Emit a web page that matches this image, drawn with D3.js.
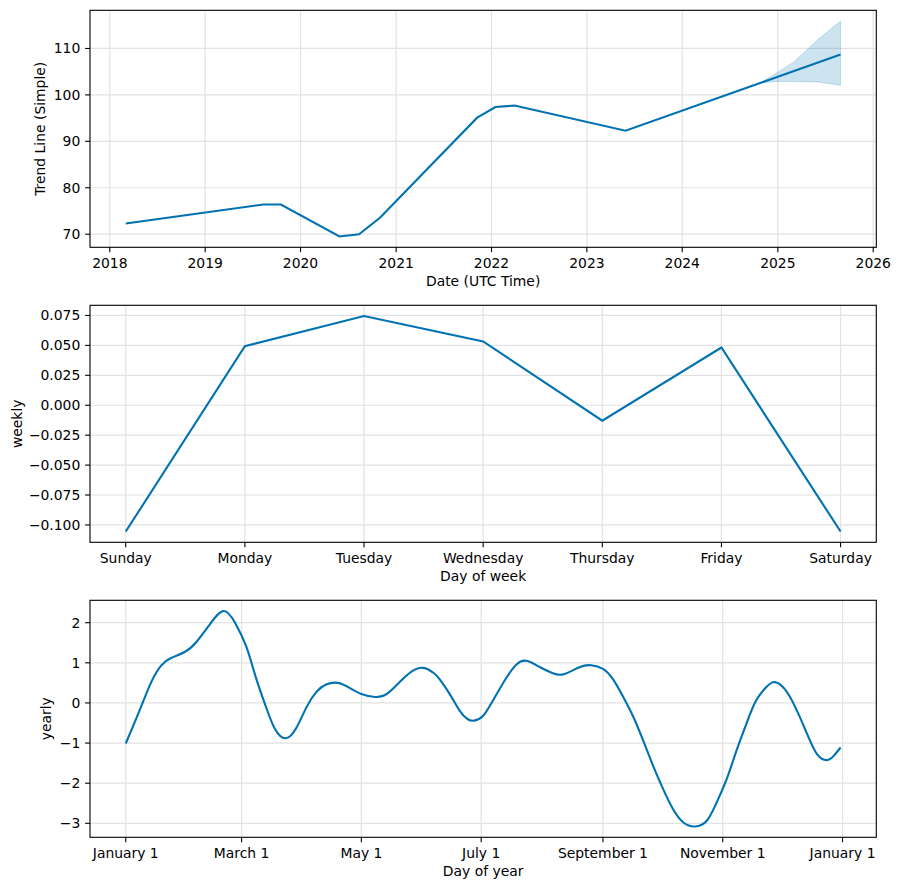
<!DOCTYPE html>
<html>
<head>
<meta charset="utf-8">
<script src="https://cdn.jsdelivr.net/npm/d3@7"></script>
<style>
  html, body { margin: 0; padding: 0; background: #fff; }
  svg { display: block; }
  text { font-family: "DejaVu Sans", sans-serif; font-size: 13.9px; fill: #000; }
</style>
</head>
<body>
<svg id="chart" width="898" height="890"></svg>
<script>
// ---------- DATA ----------
// Panel 1: trend
const trendDates  = ["2018-03-03","2019-08-12","2019-10-18","2020-05-29","2020-08-12","2020-11-01","2021-11-07","2022-01-16","2022-03-30","2023-05-29","2025-08-29"];
const trendValues = [72.3, 76.4, 76.4, 69.5, 70.0, 73.6, 95.1, 97.4, 97.7, 92.3, 108.7];
const bandDates   = ["2024-10-25","2025-01-01","2025-03-03","2025-06-01","2025-08-29"];
const bandLower   = [102.6, 102.9, 102.9, 102.8, 102.1];
const bandUpper   = [102.6, 104.9, 107.1, 111.8, 115.9];
const trendYTicks = [70, 80, 90, 100, 110];
const trendXTickYears = [2018, 2019, 2020, 2021, 2022, 2023, 2024, 2025, 2026];

// Panel 2: weekly
const weekDays   = ["Sunday","Monday","Tuesday","Wednesday","Thursday","Friday","Saturday"];
const weeklyValues = [-0.1055, 0.0494, 0.0745, 0.0533, -0.0129, 0.0482, -0.1055];
const weeklyYTicks = [-0.1, -0.075, -0.05, -0.025, 0, 0.025, 0.05, 0.075];

// Panel 3: yearly (day of year offset from Jan 1, value)
const yearlyDays = [0,7,13,18,23,30,36,43,50,56,61.5,66.5,71.5,76,81.5,87,92,97,102,108,114,120,127,133,139.5,145.5,151.5,157,160,165,170,174,177.5,182,187,194,199,204,211,217.5,223,231,237,243,248,253,258.5,263.5,268.5,273.5,278.5,284,290,296,301,306,311,316,321,326.5,330.5,335.5,341,347,352,357,360.5,364];
const yearlyValues = [-1.01,-0.19,0.52,0.93,1.12,1.27,1.52,1.97,2.29,1.97,1.39,0.6,-0.11,-0.65,-0.88,-0.61,-0.11,0.27,0.46,0.50,0.375,0.225,0.15,0.225,0.52,0.78,0.875,0.74,0.58,0.22,-0.19,-0.40,-0.44,-0.32,0.06,0.64,0.96,1.05,0.89,0.74,0.715,0.89,0.94,0.85,0.60,0.18,-0.35,-0.94,-1.56,-2.13,-2.63,-2.98,-3.08,-2.93,-2.47,-1.90,-1.19,-0.525,0.06,0.41,0.52,0.35,-0.11,-0.775,-1.275,-1.425,-1.32,-1.11];
const yearlyYTicks = [-3, -2, -1, 0, 1, 2];

// ---------- LAYOUT ----------
const svg = d3.select("#chart");
const L = 90, R = 876.3;
const panels = [{top: 10.3, bottom: 247.3}, {top: 305.3, bottom: 542.3}, {top: 600.3, bottom: 837.3}];
const lineColor = "#0072B2";
const gridColor = "#e2e2e2";
const tickLen = 4.86, tickPad = 4.86;
const minus = s => s.replace(/-/g, "\u2212");

function pad(ext, frac = 0.05) {
  const a = +ext[0], b = +ext[1], d = (b - a) * frac;
  return [a - d, b + d];
}

function drawFrame(p, x, y, xTicks, yTicks) {
  const g = svg.append("g");
  g.selectAll(".gx").data(xTicks).join("line")
    .attr("x1", d => x(d)).attr("x2", d => x(d))
    .attr("y1", p.top).attr("y2", p.bottom)
    .attr("stroke", gridColor).attr("stroke-width", 1.2);
  g.selectAll(".gy").data(yTicks).join("line")
    .attr("x1", L).attr("x2", R)
    .attr("y1", d => y(d)).attr("y2", d => y(d))
    .attr("stroke", gridColor).attr("stroke-width", 1.2);
  return g;
}

function drawAxes(p, x, y, xTicks, xFmt, yTicks, yFmt, xLabel, yLabel, yLabelX) {
  const g = svg.append("g");
  g.append("rect").attr("x", L).attr("y", p.top).attr("width", R - L).attr("height", p.bottom - p.top)
    .attr("fill", "none").attr("stroke", "#000").attr("stroke-width", 1.1);
  const xt = g.selectAll(".xt").data(xTicks).join("g").attr("transform", d => `translate(${x(d)},${p.bottom})`);
  xt.append("line").attr("y1", 0).attr("y2", tickLen).attr("stroke", "#000").attr("stroke-width", 1.1);
  xt.append("text").attr("y", 20.4).attr("text-anchor", "middle").text(xFmt);
  const yt = g.selectAll(".yt").data(yTicks).join("g").attr("transform", d => `translate(${L},${y(d)})`);
  yt.append("line").attr("x1", 0).attr("x2", -tickLen).attr("stroke", "#000").attr("stroke-width", 1.1);
  yt.append("text").attr("x", -tickLen - tickPad).attr("y", 5).attr("text-anchor", "end").text(yFmt);
  g.append("text").attr("x", (L + R) / 2).attr("y", p.bottom + 39).attr("text-anchor", "middle").text(xLabel);
  g.append("text").attr("transform", `translate(${yLabelX},${(p.top + p.bottom) / 2}) rotate(-90)`)
    .attr("text-anchor", "middle").text(yLabel);
}

// ---------- PANEL 1 ----------
{
  const p = panels[0];
  const td = trendDates.map(d => new Date(d + "T00:00:00Z"));
  const bd = bandDates.map(d => new Date(d + "T00:00:00Z"));
  const xd = pad(d3.extent(td));
  const x = d3.scaleUtc().domain([new Date(xd[0]), new Date(xd[1])]).range([L, R]);
  const allY = trendValues.concat(bandLower, bandUpper);
  const y = d3.scaleLinear().domain(pad(d3.extent(allY))).range([p.bottom, p.top]);
  const xTicks = trendXTickYears.map(yr => new Date(Date.UTC(yr, 0, 1)));
  drawFrame(p, x, y, xTicks, trendYTicks);
  const band = bd.map((d, i) => ({d, lo: bandLower[i], hi: bandUpper[i]}));
  svg.append("path").datum(band)
    .attr("d", d3.area().x(d => x(d.d)).y0(d => y(d.lo)).y1(d => y(d.hi)))
    .attr("fill", lineColor).attr("fill-opacity", 0.2).attr("stroke", lineColor).attr("stroke-opacity", 0.2).attr("stroke-width", 1);
  svg.append("path").datum(td.map((d, i) => [d, trendValues[i]]))
    .attr("d", d3.line().x(d => x(d[0])).y(d => y(d[1])))
    .attr("fill", "none").attr("stroke", lineColor).attr("stroke-width", 2.1);
  drawAxes(p, x, y, xTicks, d => d3.utcFormat("%Y")(d), trendYTicks, d => d3.format("d")(d),
    "Date (UTC Time)", "Trend Line (Simple)", 45);
}

// ---------- PANEL 2 ----------
{
  const p = panels[1];
  const idx = weekDays.map((d, i) => i);
  const x = d3.scaleLinear().domain(pad(d3.extent(idx))).range([L, R]);
  const y = d3.scaleLinear().domain(pad(d3.extent(weeklyValues))).range([p.bottom, p.top]);
  drawFrame(p, x, y, idx, weeklyYTicks);
  svg.append("path").datum(idx.map(i => [i, weeklyValues[i]]))
    .attr("d", d3.line().x(d => x(d[0])).y(d => y(d[1])))
    .attr("fill", "none").attr("stroke", lineColor).attr("stroke-width", 2.1);
  drawAxes(p, x, y, idx, i => weekDays[i], weeklyYTicks, d => minus(d3.format(".3f")(d)),
    "Day of week", "weekly", 21.5);
}

// ---------- PANEL 3 ----------
{
  const p = panels[2];
  const base = Date.UTC(2017, 0, 1);
  const dates = yearlyDays.map(d => new Date(base + d * 864e5));
  const xd = pad(d3.extent(dates));
  const x = d3.scaleUtc().domain([new Date(xd[0]), new Date(xd[1])]).range([L, R]);
  const y = d3.scaleLinear().domain(pad(d3.extent(yearlyValues))).range([p.bottom, p.top]);
  const xTicks = d3.utcMonth.every(2).range(new Date(base), new Date(Date.UTC(2018, 0, 2)));
  drawFrame(p, x, y, xTicks, yearlyYTicks);
  svg.append("path").datum(dates.map((d, i) => [d, yearlyValues[i]]))
    .attr("d", d3.line().x(d => x(d[0])).y(d => y(d[1])).curve(d3.curveNatural))
    .attr("fill", "none").attr("stroke", lineColor).attr("stroke-width", 2.1);
  drawAxes(p, x, y, xTicks, d => d3.utcFormat("%B %-d")(d), yearlyYTicks, d => minus(d3.format("d")(d)),
    "Day of year", "yearly", 51);
}
</script>
</body>
</html>
